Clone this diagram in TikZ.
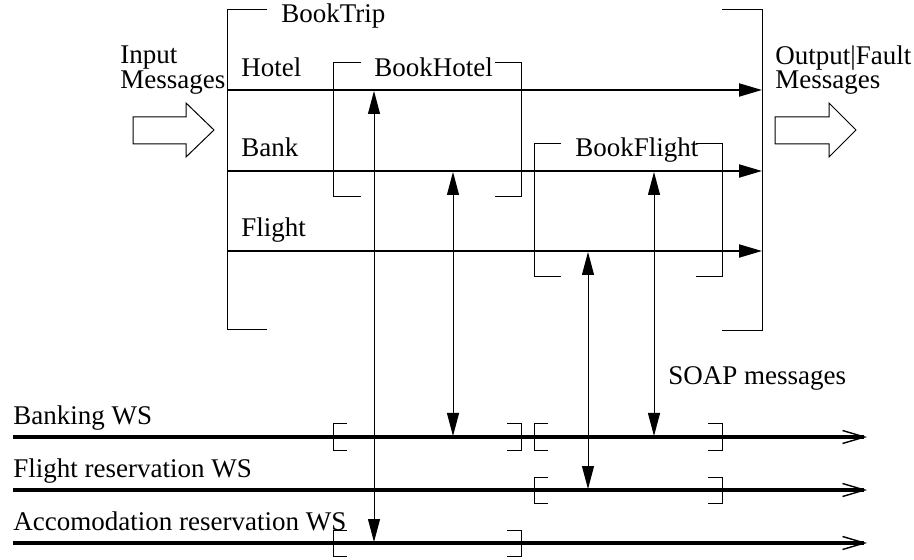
\documentclass[tikz,border=0pt]{standalone}
\usepackage{fontspec}
\setmainfont{Liberation Serif}
\usetikzlibrary{arrows.meta,positioning}

\newcommand{\wsopen}[2]{\draw[scopebr] (#1+14,#2-13) -- (#1,#2-13) -- (#1,#2+13) -- (#1+14,#2+13);}
\newcommand{\wsclose}[2]{\draw[scopebr] (#1-14,#2-13) -- (#1,#2-13) -- (#1,#2+13) -- (#1-14,#2+13);}

\begin{document}
\begin{tikzpicture}[
    x=0.5pt, y=-0.5pt,
    lbl/.style={anchor=base west, inner sep=0pt, font=\fontsize{13.5}{12.5}\selectfont},
    scopebr/.style={line width=0.5pt},
    flow/.style={line width=1pt, -{Triangle[length=11.5pt,width=6.5pt]}},
    soap/.style={line width=0.5pt, {Triangle[length=11.5pt,width=6pt]}-{Triangle[length=11.5pt,width=6pt]}},
    wsline/.style={line width=2pt, -{Straight Barb[length=11pt,width=6.5pt,line width=0.7pt]}},
    bigarrow/.style={line width=0.5pt}
]
\useasboundingbox (0,0) rectangle (914,560);

% composite process BookTrip
\draw[scopebr] (267,10) -- (227,10) -- (227,330) -- (267,330);
\draw[scopebr] (722,10) -- (762,10) -- (762,331) -- (722,331);
\node[lbl] (tripLbl) at (281,23) {BookTrip};

% sub-processes
\draw[scopebr] (361,63) -- (333,63) -- (333,197) -- (361,197);
\draw[scopebr] (495,63) -- (521,63) -- (521,197) -- (495,197);
\node[lbl] (hotelProc) at (374,77) {BookHotel};
\draw[scopebr] (561,144) -- (534,144) -- (534,277) -- (561,277);
\draw[scopebr] (696,144) -- (722,144) -- (722,277) -- (696,277);
\node[lbl] (flightProc) at (575,157) {BookFlight};

% partner links
\coordinate (hotelA) at (227,90);  \coordinate (hotelB) at (762,90);
\coordinate (bankA) at (227,171);  \coordinate (bankB) at (762,171);
\coordinate (flightA) at (227,251); \coordinate (flightB) at (762,251);
\draw[flow] (hotelA) -- (hotelB);
\draw[flow] (bankA) -- (bankB);
\draw[flow] (flightA) -- (flightB);
\node[lbl] (hotelLbl) at (241,77) {Hotel};
\node[lbl] (bankLbl) at (241,157) {Bank};
\node[lbl] (flightLbl) at (241,237) {Flight};

% input / output
\node[lbl] (inLbl) at (120,64) {Input};
\node[lbl] (inLblB) at (120,89) {Messages};
\node[lbl] (outLbl) at (775,65) {Output|Fault};
\node[lbl] (outLblB) at (775,89) {Messages};
\draw[bigarrow] (133,117) -- (186,117) -- (186,103) -- (214,130) -- (186,157) -- (186,144) -- (133,144) -- cycle;
\draw[bigarrow] (775,117) -- (829,117) -- (829,103) -- (856,130) -- (829,157) -- (829,144) -- (775,144) -- cycle;

% web services
\coordinate (bankWsA) at (13,437);  \coordinate (bankWsB) at (867,437);
\coordinate (fltWsA) at (13,490);   \coordinate (fltWsB) at (867,490);
\coordinate (accWsA) at (13,543);   \coordinate (accWsB) at (867,543);
\draw[wsline] (bankWsA) -- (bankWsB);
\draw[wsline] (fltWsA) -- (fltWsB);
\draw[wsline] (accWsA) -- (accWsB);
\node[lbl] (bankWsLbl) at (13,424) {Banking WS};
\node[lbl] (fltWsLbl) at (13,477) {Flight reservation WS};
\node[lbl] (accWsLbl) at (13,530) {Accomodation reservation WS};
\wsopen{333}{437} \wsclose{521}{437}
\wsopen{534}{437} \wsclose{722}{437}
\wsopen{534}{490} \wsclose{722}{490}
\wsopen{333}{543} \wsclose{521}{543}

% SOAP messages
\coordinate (s1a) at (374,91);  \coordinate (s1b) at (374,542);
\coordinate (s2a) at (453,172); \coordinate (s2b) at (453,436);
\coordinate (s3a) at (588,252); \coordinate (s3b) at (588,489);
\coordinate (s4a) at (654,172); \coordinate (s4b) at (654,436);
\draw[soap] (s1a) -- (s1b);
\draw[soap] (s2a) -- (s2b);
\draw[soap] (s3a) -- (s3b);
\draw[soap] (s4a) -- (s4b);
\node[lbl] (soapLbl) at (668,385) {SOAP messages};
\end{tikzpicture}
\end{document}
